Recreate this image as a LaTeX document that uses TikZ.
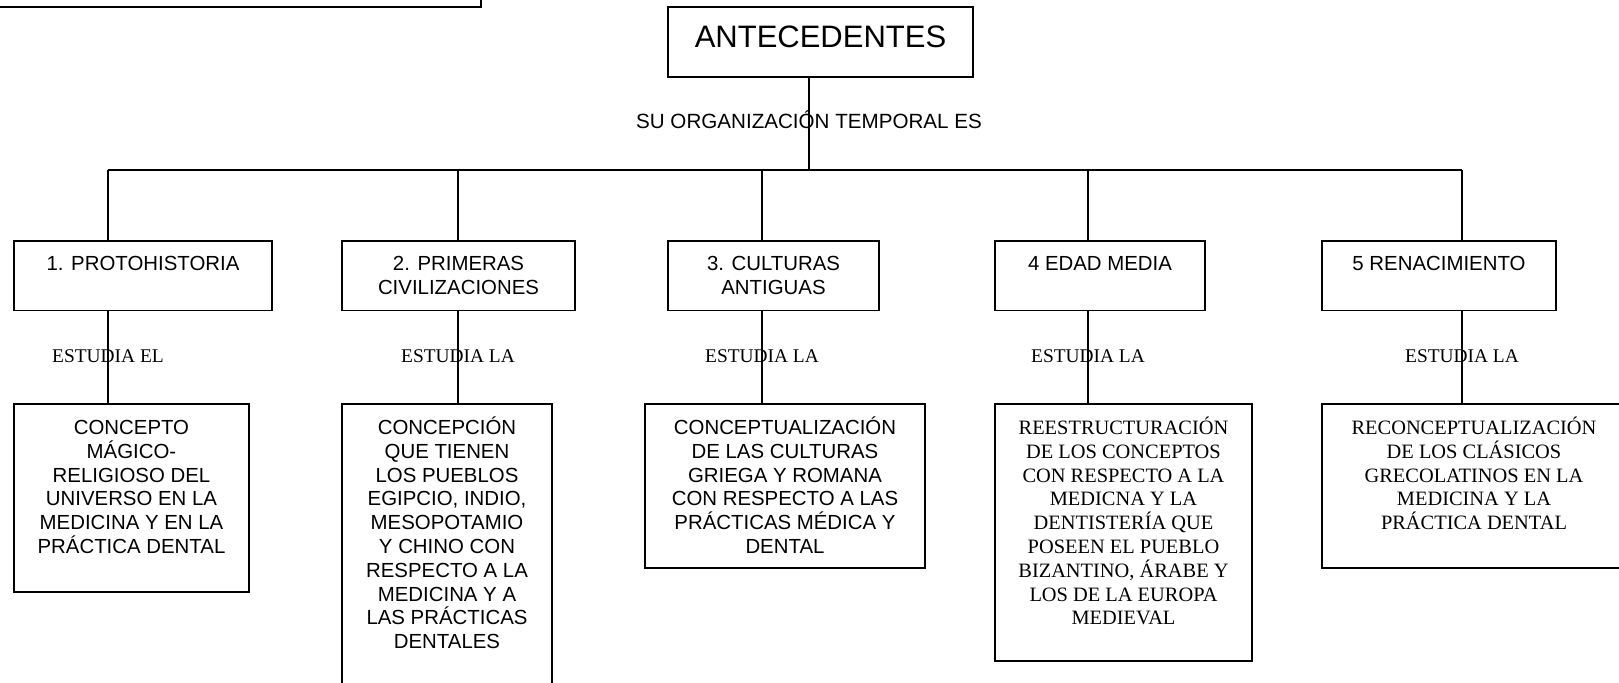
\documentclass[tikz,border=0pt]{standalone}
\usepackage{fontspec}
\setmainfont{Liberation Sans}
\newfontfamily\timesfont{Liberation Serif}
\usetikzlibrary{positioning}
\newcommand\boxstrut{\rule{0pt}{11pt}} % same top for every first line
\tikzset{
  box/.style={draw, line width=0.8pt, anchor=north west, inner sep=0, outer sep=0}, % empty frame, text goes in its own node
  boxtext/.style={inner sep=0, align=center, font=\fontsize{10.2}{11.9}\selectfont},
  serif/.style={font=\timesfont\fontsize{10.2}{11.9}\selectfont},
  link/.style={draw, line width=0.8pt},
  linktext/.style={inner sep=0, anchor=base, font=\fontsize{10.3}{12}\selectfont},
  studytext/.style={inner sep=0, anchor=base, pos=0.56, font=\timesfont\fontsize{9.7}{11}\selectfont},
}

\begin{document}
\begin{tikzpicture}[x=0.5pt, y=-0.5pt]
  \clip (0,0) rectangle (1619,682);

  % frame cut by the page
  \node[box, anchor=south east, minimum width=260pt, minimum height=50pt] (prev) at (481,7) {};

  \node[box, minimum width=152.5pt, minimum height=35pt, font=\fontsize{15.5}{18}\selectfont, text height=11pt, text depth=5.6pt] (ant) at (668,7) {ANTECEDENTES};

  % periods
  \node[box, minimum width=129pt, minimum height=34.75pt] (b1) at (14,241) {};
  \node[box, minimum width=116.5pt, minimum height=34.75pt] (b2) at (342,241) {};
  \node[box, minimum width=105.5pt, minimum height=34.75pt] (b3) at (668,241) {};
  \node[box, minimum width=105pt, minimum height=34.75pt] (b4) at (995,241) {};
  \node[box, minimum width=117pt, minimum height=34.75pt] (b5) at (1322,241) {};
  \node[boxtext, below=3.5pt of b1.north] (p1) {\boxstrut 1. PROTOHISTORIA};
  \node[boxtext, below=3.5pt of b2.north] (p2) {\boxstrut 2. PRIMERAS\\CIVILIZACIONES};
  \node[boxtext, below=3.5pt of b3.north] (p3) {\boxstrut 3. CULTURAS\\ANTIGUAS};
  \node[boxtext, below=3.5pt of b4.north] (p4) {\boxstrut 4 EDAD MEDIA};
  \node[boxtext, below=3.5pt of b5.north] (p5) {\boxstrut 5 RENACIMIENTO};

  % what each period studies
  \node[box, minimum width=117.5pt, minimum height=94pt] (c1) at (14,404) {};
  \node[box, minimum width=105pt, minimum height=160pt] (c2) at (342,404) {};
  \node[box, minimum width=140pt, minimum height=82pt] (c3) at (645,404) {};
  \node[box, minimum width=128.5pt, minimum height=128.5pt] (c4) at (995,404) {};
  \node[box, minimum width=152pt, minimum height=82pt] (c5) at (1322,404) {};
  \node[boxtext, below=4pt of c1.north] (k1) {\boxstrut CONCEPTO\\MÁGICO-\\RELIGIOSO DEL\\UNIVERSO EN LA\\MEDICINA Y EN LA\\PRÁCTICA DENTAL};
  \node[boxtext, below=4pt of c2.north] (k2) {\boxstrut CONCEPCIÓN\\QUE TIENEN\\LOS PUEBLOS\\EGIPCIO, INDIO,\\MESOPOTAMIO\\Y CHINO CON\\RESPECTO A LA\\MEDICINA Y A\\LAS PRÁCTICAS\\DENTALES};
  \node[boxtext, below=4pt of c3.north] (k3) {\boxstrut CONCEPTUALIZACIÓN\\DE LAS CULTURAS\\GRIEGA Y ROMANA\\CON RESPECTO A LAS\\PRÁCTICAS MÉDICA Y\\DENTAL};
  \node[boxtext, serif, below=4pt of c4.north] (k4) {\boxstrut REESTRUCTURACIÓN\\DE LOS CONCEPTOS\\CON RESPECTO A LA\\MEDICNA Y LA\\DENTISTERÍA QUE\\POSEEN EL PUEBLO\\BIZANTINO, ÁRABE Y\\LOS DE LA EUROPA\\MEDIEVAL};
  \node[boxtext, serif, below=4pt of c5.north] (k5) {\boxstrut RECONCEPTUALIZACIÓN\\DE LOS CLÁSICOS\\GRECOLATINOS EN LA\\MEDICINA Y LA\\PRÁCTICA DENTAL};

  % tree lines
  \coordinate (bar) at (809,170);
  \coordinate (s1) at (108,170);
  \coordinate (s2) at (458,170);
  \coordinate (s3) at (762,170);
  \coordinate (s4) at (1088,170);
  \coordinate (s5) at (1462,170);

  \draw[link] (ant.south -| bar) -- node[linktext, pos=0.55] {SU ORGANIZACIÓN TEMPORAL ES} (bar);
  \draw[link] (s1) -- (s5);

  \draw[link] (s1) -- (b1.north -| s1);
  \draw[link] (s2) -- (b2.north -| s2);
  \draw[link] (s3) -- (b3.north -| s3);
  \draw[link] (s4) -- (b4.north -| s4);
  \draw[link] (s5) -- (b5.north -| s5);

  \draw[link] (b1.south -| s1) -- node[studytext] {ESTUDIA EL} (c1.north -| s1);
  \draw[link] (b2.south -| s2) -- node[studytext] {ESTUDIA LA} (c2.north -| s2);
  \draw[link] (b3.south -| s3) -- node[studytext] {ESTUDIA LA} (c3.north -| s3);
  \draw[link] (b4.south -| s4) -- node[studytext] {ESTUDIA LA} (c4.north -| s4);
  \draw[link] (b5.south -| s5) -- node[studytext] {ESTUDIA LA} (c5.north -| s5);

\end{tikzpicture}
\end{document}
